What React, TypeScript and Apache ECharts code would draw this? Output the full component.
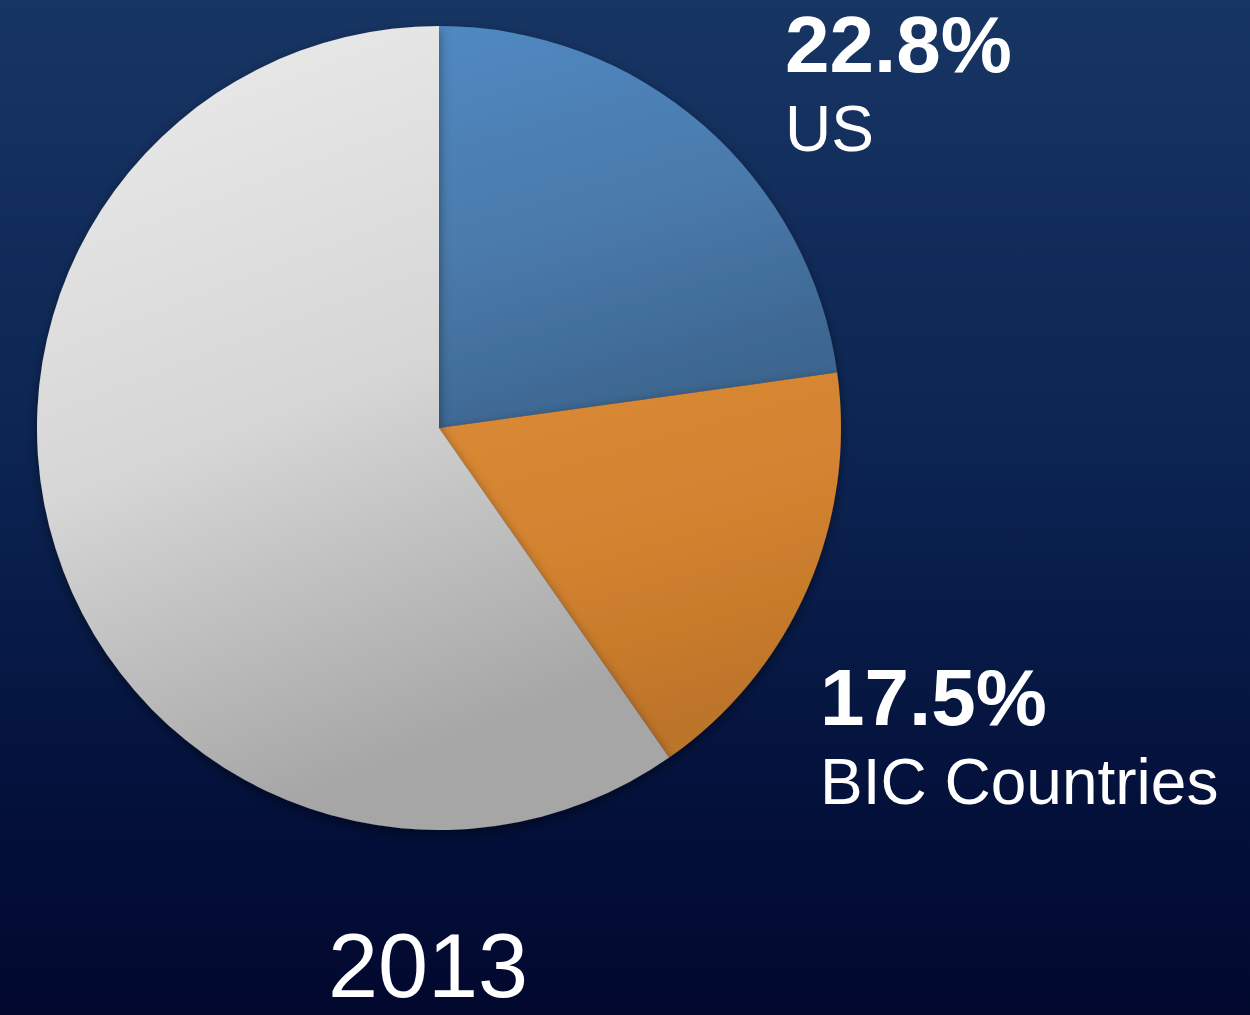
import React, { useEffect, useRef } from "react";
import * as echarts from "echarts";

const categories = ["US", "BIC Countries", "Rest of World"];
const shares = [22.8, 17.5, 59.7];
const yearLabel = "2013";
const labelled = [0, 1];

const sliceGradients = [
  ["#5089c2", "#4a7aab", "#3d6690"],
  ["#db8a36", "#d2822f", "#bd7429"],
  ["#ececec", "#d6d6d6", "#a6a6a6"],
];

export default function App() {
  const ref = useRef<HTMLDivElement>(null);
  useEffect(() => {
    if (!ref.current) return;
    const chart = echarts.init(ref.current, null, { renderer: "svg" });
    const font = "'Liberation Sans', Arial, Helvetica, sans-serif";
    const labelPos = [
      { x: 785, pctY: 44, nameY: 129 },
      { x: 820, pctY: 697, nameY: 782 },
    ];
    const texts: any[] = [];
    labelled.forEach((idx, i) => {
      const p = labelPos[i];
      texts.push({
        type: "text",
        x: p.x,
        y: p.pctY,
        style: {
          text: shares[idx].toFixed(1) + "%",
          fill: "#ffffff",
          font: `bold 80px ${font}`,
          verticalAlign: "middle",
          align: "left",
        },
      });
      texts.push({
        type: "text",
        x: p.x,
        y: p.nameY,
        style: {
          text: categories[idx],
          fill: "#ffffff",
          font: `64px ${font}`,
          verticalAlign: "middle",
          align: "left",
        },
      });
    });
    texts.push({
      type: "text",
      x: 428,
      y: 966,
      style: {
        text: yearLabel,
        fill: "#ffffff",
        font: `90px ${font}`,
        verticalAlign: "middle",
        align: "center",
      },
    });
    chart.setOption({
      animation: false,
      backgroundColor: {
        type: "linear",
        x: 0,
        y: 0,
        x2: 0,
        y2: 1,
        colorStops: [
          { offset: 0, color: "#173563" },
          { offset: 0.45, color: "#0c2452" },
          { offset: 0.8, color: "#03103a" },
          { offset: 1, color: "#02082e" },
        ],
      },
      series: [
        {
          type: "pie",
          center: [439, 428],
          radius: 402,
          startAngle: 90,
          clockwise: true,
          silent: true,
          label: { show: false },
          labelLine: { show: false },
          itemStyle: {
            borderWidth: 0,
            shadowBlur: 12,
            shadowColor: "rgba(0,0,0,0.45)",
            shadowOffsetY: 4,
          },
          data: categories.map((c, i) => ({
            name: c,
            value: shares[i],
            itemStyle: {
              color: {
                type: "linear",
                x: 0,
                y: 0,
                x2: 0.3,
                y2: 1,
                colorStops: [
                  { offset: 0, color: sliceGradients[i][0] },
                  { offset: 0.55, color: sliceGradients[i][1] },
                  { offset: 1, color: sliceGradients[i][2] },
                ],
              },
            },
          })),
        },
      ],
      graphic: texts,
    });
    return () => chart.dispose();
  }, []);
  return <div ref={ref} style={{ width: 1250, height: 1015, position: "absolute", left: 0, top: 0 }} />;
}
